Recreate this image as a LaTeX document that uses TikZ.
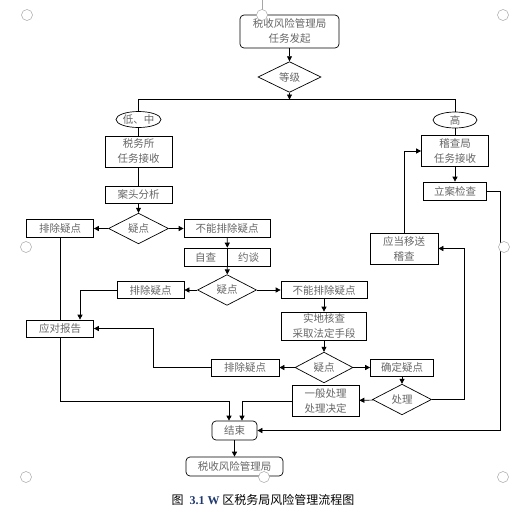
\documentclass[tikz,border=0pt]{standalone}
\usepackage{fontspec}
\setmainfont{Liberation Serif}
\newfontfamily\cjk{Noto Sans CJK SC}
\usetikzlibrary{shapes.geometric,arrows.meta}
\definecolor{txtgray}{gray}{0.4}
\definecolor{capblue}{RGB}{31,56,110}
\begin{document}
\begin{tikzpicture}[x=1pt,y=-1pt,line width=.7pt,
    every node/.style={font=\cjk\fontsize{10.5}{15}\selectfont,text=txtgray,align=center,inner sep=0pt},
    sz/.style 2 args={minimum width=#1pt,minimum height=#2pt},
    box/.style={draw=black,rectangle},
    rbox/.style={box,rounded corners=4pt},
    dia/.style={draw=black,diamond},
    oval/.style={draw=black,ellipse},
    arr/.style={-{Triangle[length=5pt,width=5pt]}},
    handle/.style={draw=gray!70,fill=white,line width=.5pt}]
        \useasboundingbox (0,0) rectangle (517,512);
        % task start and the level check
        \node[rbox,sz={99}{33}] (start) at (289.5,31.5) {税收风险管理局\\任务发起};
        \node[dia,sz={63}{24}]  (level) at (289.5,77)   {等级};
        \coordinate (split) at (289.5,99.5);
        \node[oval,sz={45}{16}] (low)   at (138.5,119.5) {低、中};
        \node[oval,sz={44}{16}] (high)  at (455,120)     {高};
        \draw[arr] (start) -- (level);
        \draw[arr] (level) -- (split);
        \draw (low.north) |- (split) -| (high.north);
        % low and middle level: the tax office
        \node[box,sz={67}{31}] (office)   at (138.5,151.5) {税务所\\任务接收};
        \node[box,sz={67}{17}] (desk)     at (138.5,194.5) {案头分析};
        \node[dia,sz={60}{27}] (doubtA)   at (138.5,228.5) {疑点};
        \node[box,sz={67}{18}] (clearA)   at (60,228.5)    {排除疑点};
        \node[box,sz={86}{18}] (notclearA) at (227,228.5)  {不能排除疑点};
        \draw (low) -- (office);
        \draw (office) -- (desk);
        \draw[arr] (desk) -- (doubtA);
        \draw[arr] (doubtA) -- (clearA);
        \draw[arr] (doubtA) -- (notclearA);
        % self check and talk
        \node[box,sz={43}{18}] (self)     at (205.5,257) {自查};
        \node[box,sz={43}{18}] (talk)     at (248.5,257) {约谈};
        \node[dia,sz={59}{26}] (doubtB)   at (227,290)   {疑点};
        \node[box,sz={67}{17}] (clearB)   at (150.5,290) {排除疑点};
        \node[box,sz={86}{17}] (notclearB) at (324,290)  {不能排除疑点};
        \draw[arr] (notclearA) -- (self.north east);
        \draw[arr] (self.south east) -- (doubtB);
        \draw[arr] (doubtB) -- (clearB);
        \draw[arr] (doubtB) -- (notclearB);
        % field check
        \node[box,sz={85}{28}] (check)   at (324,326)   {实地核查\\采取法定手段};
        \node[dia,sz={58}{25}] (doubtC)  at (324,367.5) {疑点};
        \node[box,sz={68}{17}] (clearC)  at (245,367.5) {排除疑点};
        \node[box,sz={63}{17}] (confirm) at (402,367.5) {确定疑点};
        \node[dia,sz={59}{25}] (deal)    at (402,399.5) {处理};
        \node[box,sz={67}{31}] (general) at (325.5,401) {一般处理\\处理决定};
        \draw[arr] (notclearB) -- (check);
        \draw[arr] (check) -- (doubtC);
        \draw[arr] (doubtC) -- (clearC);
        \draw[arr] (doubtC) -- (confirm);
        \draw[arr] (confirm) -- (deal);
        \draw[arr] (deal) -- (general);
        % high level: the inspection bureau
        \node[box,sz={67}{31}] (inspect)  at (455,151)   {稽查局\\任务接收};
        \node[box,sz={63}{18}] (filecase) at (455,191)   {立案检查};
        \node[box,sz={68}{31}] (transfer) at (404,248.5) {应当移送\\稽查};
        \draw (high) -- (inspect);
        \draw[arr] (inspect) -- (filecase);
        \draw[arr] (transfer.north) |- (inspect.west);
        \coordinate (bendD) at (464,399.5);
        \draw[arr] (deal.east) -- (bendD) |- (transfer.east);
        % report and the end
        \node[box,sz={67}{17}]  (report) at (60,328.5)    {应对报告};
        \node[rbox,sz={45}{19}] (finish) at (234.5,430.5) {结束};
        \node[rbox,sz={97}{19}] (bureau) at (234.5,466.5) {税收风险管理局};
        \draw (clearA) -- (report);
        \coordinate (bendB) at (80,290);
        \draw[arr] (clearB.west) -- (bendB) -- (bendB |- report.north);
        \coordinate (bendC) at (153,367.5);
        \draw[arr] (clearC.west) -- (bendC) |- (report.east);
        \coordinate (join) at (229,401);
        \draw[arr] (report.south) |- (join) -- (join |- finish.north);
        \draw[arr] (general.west) -| ([xshift=7.5pt]finish.north);
        \coordinate (bendF) at (500.5,191);
        \draw[arr] (filecase.east) -- (bendF) |- (finish.east);
        \draw[arr] (finish) -- (bureau);
        % selection handles round the drawing
        \draw[gray!70,line width=.5pt] (262,0) -- (262,9.5);
        \foreach \hx/\hy in {27/15,262/15,503/15,26/247,504/247,26/477,264/477,503/477}
            \draw[handle] (\hx,\hy) circle (5.5pt);
        % caption
        \node[text=black,font=\cjk\fontsize{12}{14}\selectfont] (caption) at (263,500)
            {图\hspace{6pt}{\rmfamily\bfseries\color{capblue}3.1 W} 区税务局风险管理流程图};
    \end{tikzpicture}
\end{document}
